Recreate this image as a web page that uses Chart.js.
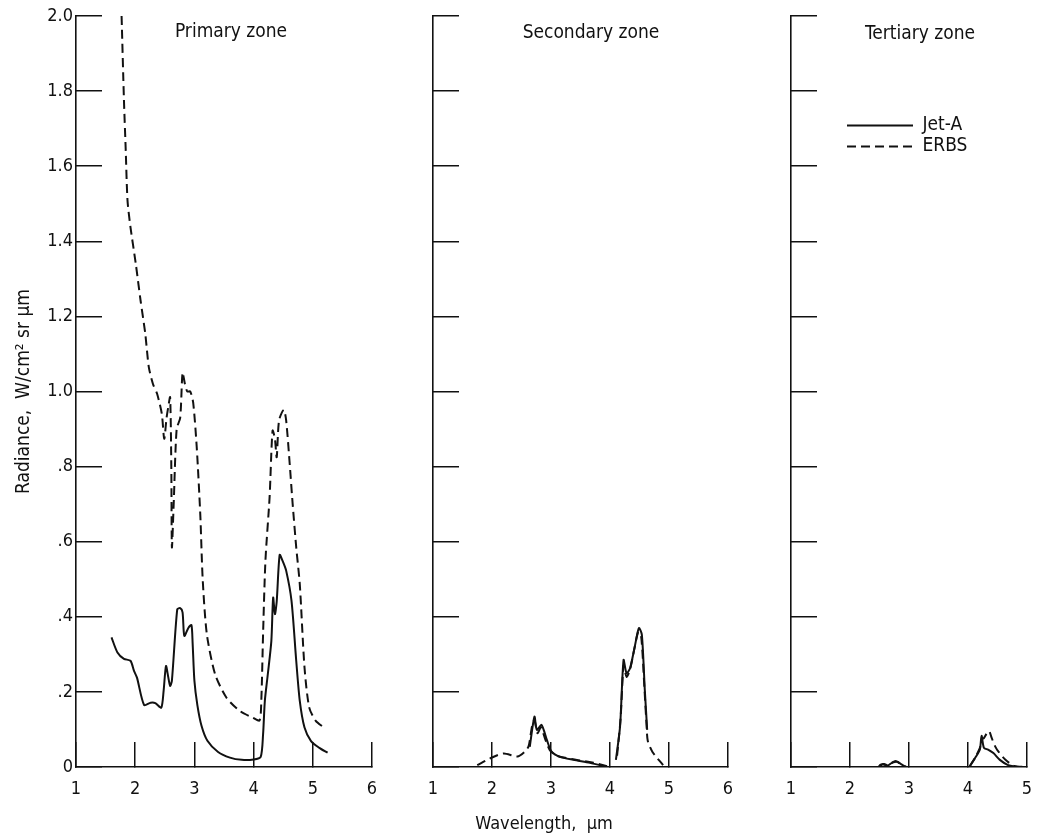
<!DOCTYPE html>
<html>
<head>
<meta charset="utf-8">
<title>Radiance by zone</title>
<script src="https://cdn.jsdelivr.net/npm/chart.js@4.4.1/dist/chart.umd.min.js"></script>
<style>
  body { margin: 0; background: #fff; }
  #fig { position: relative; width: 1037px; height: 838px; color: #111;
         font-family: 'DejaVu Sans Condensed', 'Liberation Sans Narrow', 'DejaVu Sans', sans-serif; }
  canvas { position: absolute; top: 0; }
  .lbl { position: absolute; font-size: 18px; white-space: pre; transform: translate(-50%, -50%); }
  .zone { font-size: 19px; }
</style>
</head>
<body>
<div id="fig">
  <canvas id="primary" width="392" height="838" style="left:0px"></canvas>
  <canvas id="secondary" width="340" height="838" style="left:400px"></canvas>
  <canvas id="tertiary" width="277" height="838" style="left:760px"></canvas>
  <div class="lbl zone" style="left:231px;top:30px">Primary zone</div>
  <div class="lbl zone" style="left:591px;top:31px">Secondary zone</div>
  <div class="lbl zone" style="left:920px;top:32px">Tertiary zone</div>
  <div class="lbl" style="left:544px;top:822px">Wavelength,  µm</div>
</div>
<script>
const FONT = "'DejaVu Sans Condensed', 'Liberation Sans Narrow', 'DejaVu Sans', sans-serif";
const INK = '#111';

const seriesNames = ['Jet-A', 'ERBS'];
const yTickLabels = ['0', '.2', '.4', '.6', '.8', '1.0', '1.2', '1.4', '1.6', '1.8', '2.0'];

// primary zone
const primaryJetAWave = [1.60, 1.70, 1.81, 1.92, 1.98, 2.03, 2.15, 2.26, 2.34, 2.44, 2.48, 2.52, 2.56, 2.59, 2.62,
  2.71, 2.76, 2.80, 2.83, 2.90, 2.95, 2.97, 3.00, 3.05, 3.12, 3.22, 3.40, 3.60, 3.80, 4.00, 4.12,
  4.16, 4.19, 4.24, 4.30, 4.33, 4.36, 4.39, 4.44, 4.49, 4.55, 4.64, 4.72, 4.78, 4.86, 4.97, 5.11, 5.25];
const primaryJetARad = [0.345, 0.305, 0.288, 0.283, 0.256, 0.238, 0.165, 0.171, 0.170, 0.158, 0.203, 0.269, 0.238, 0.216, 0.230,
  0.420, 0.423, 0.412, 0.349, 0.371, 0.378, 0.330, 0.230, 0.165, 0.110, 0.070, 0.040, 0.025, 0.019, 0.020, 0.027,
  0.087, 0.176, 0.247, 0.336, 0.451, 0.407, 0.440, 0.565, 0.549, 0.523, 0.443, 0.283, 0.176, 0.105, 0.069, 0.051, 0.038];
const primaryErbsWave = [1.77, 1.81, 1.84, 1.87, 1.92, 2.01, 2.09, 2.17, 2.23, 2.30, 2.37, 2.45, 2.49, 2.53, 2.56, 2.59,
  2.61, 2.62, 2.65, 2.70, 2.76, 2.80, 2.84, 2.88, 2.93, 2.98, 3.04, 3.10, 3.14, 3.21, 3.35, 3.54, 3.77, 3.99, 4.10,
  4.13, 4.16, 4.20, 4.27, 4.32, 4.36, 4.39, 4.43, 4.51, 4.55, 4.61, 4.66, 4.72, 4.78, 4.86, 4.94, 5.05, 5.19];
const primaryErbsRad = [2.00, 1.776, 1.643, 1.509, 1.438, 1.340, 1.243, 1.154, 1.065, 1.020, 0.994, 0.940, 0.874, 0.930, 0.960, 0.985,
  0.800, 0.585, 0.700, 0.900, 0.930, 1.050, 1.020, 1.000, 1.000, 0.970, 0.850, 0.670, 0.500, 0.354, 0.247, 0.185, 0.149, 0.131, 0.124,
  0.176, 0.354, 0.550, 0.718, 0.896, 0.874, 0.825, 0.923, 0.951, 0.923, 0.807, 0.700, 0.585, 0.487, 0.265, 0.158, 0.123, 0.105];

// secondary zone
const secondaryJetAWave = [2.64, 2.72, 2.76, 2.84, 2.93, 3.01, 3.15, 3.38, 3.66, 3.94, null,
  4.10, 4.17, 4.23, 4.28, 4.34, 4.42, 4.49, 4.54, 4.59, 4.63];
const secondaryJetARad = [0.054, 0.134, 0.099, 0.112, 0.072, 0.041, 0.027, 0.019, 0.011, 0.001, null,
  0.019, 0.107, 0.285, 0.250, 0.263, 0.321, 0.370, 0.352, 0.205, 0.099];
const secondaryErbsWave = [1.75, 2.01, 2.20, 2.43, 2.55, 2.62, 2.68, 2.72, 2.77, 2.83, 2.90, 2.98, 3.10, 3.40, 3.70, 3.95, null,
  4.12, 4.18, 4.23, 4.28, 4.34, 4.42, 4.48, 4.53, 4.58, 4.62, 4.64, 4.72, 4.90];
const secondaryErbsRad = [0.005, 0.026, 0.036, 0.028, 0.040, 0.055, 0.110, 0.125, 0.090, 0.105, 0.075, 0.045, 0.030, 0.020, 0.012, 0.002, null,
  0.030, 0.130, 0.270, 0.240, 0.260, 0.320, 0.360, 0.345, 0.220, 0.110, 0.070, 0.040, 0.005];

// tertiary zone
const tertiaryJetAWave = [2.48, 2.52, 2.58, 2.64, 2.70, 2.77, 2.84, 2.90, 2.96, null,
  4.03, 4.12, 4.20, 4.23, 4.27, 4.34, 4.43, 4.54, 4.68, 4.83];
const tertiaryJetARad = [0.000, 0.006, 0.008, 0.004, 0.010, 0.016, 0.010, 0.004, 0.000, null,
  0.002, 0.024, 0.046, 0.083, 0.051, 0.046, 0.037, 0.019, 0.005, 0.000];
const tertiaryErbsWave = [2.50, 2.55, 2.62, 2.72, 2.80, 2.88, 2.95, null,
  4.03, 4.12, 4.20, 4.24, 4.27, 4.32, 4.36, 4.40, 4.46, 4.52, 4.63, 4.78, 5.00];
const tertiaryErbsRad = [0.000, 0.007, 0.004, 0.012, 0.014, 0.006, 0.000, null,
  0.002, 0.025, 0.050, 0.075, 0.077, 0.090, 0.095, 0.078, 0.055, 0.040, 0.020, 0.003, 0.000];

function points(xs, ys) {
  return xs.map((x, i) => ({ x: x, y: ys[i] }));
}

// move the chartArea legend to where the original sits
const legendSpot = {
  id: 'legendSpot',
  afterLayout(chart) {
    const lg = chart.legend;
    if (!lg || !lg.options.display) return;
    lg.left = chart.chartArea.left + 54;
    lg.top = 114;
  }
};

// point-style legend loses the dash, so take it from the dataset
function legendLabels(chart) {
  return Chart.defaults.plugins.legend.labels.generateLabels(chart).map((item) => {
    const ds = chart.data.datasets[item.datasetIndex];
    item.lineDash = ds.borderDash || [];
    item.lineWidth = ds.borderWidth;
    item.strokeStyle = ds.borderColor;
    return item;
  });
}

function makePanel(id, xMax, yAxisWidth, rightPad, jet, erbs, showYLabels, showLegend) {
  return new Chart(document.getElementById(id), {
    type: 'line',
    data: {
      datasets: [
        { label: seriesNames[0], data: jet, borderColor: INK, borderWidth: 2, pointRadius: 0, tension: 0.25, spanGaps: false },
        { label: seriesNames[1], data: erbs, borderColor: INK, borderWidth: 2, borderDash: [9, 5], pointRadius: 0, tension: 0.25, spanGaps: false }
      ]
    },
    options: {
      responsive: false,
      animation: false,
      layout: { padding: { top: 16, right: rightPad, left: 0, bottom: 0 } },
      plugins: {
        legend: {
          display: showLegend,
          position: 'chartArea',
          align: 'start',
          labels: {
            usePointStyle: true, pointStyle: 'line', pointStyleWidth: 66, padding: 2,
            color: INK, font: { size: 19, family: FONT }, generateLabels: legendLabels
          }
        },
        tooltip: { enabled: false }
      },
      scales: {
        x: {
          type: 'linear', min: 1, max: xMax,
          border: { display: true, color: INK, width: 1.6 },
          grid: { drawOnChartArea: false, tickLength: -25, color: INK, lineWidth: 1.5 },
          ticks: { stepSize: 1, padding: 37, color: INK, maxRotation: 0, autoSkip: false, font: { size: 18, family: FONT } },
          afterFit: (s) => { s.height = 71; s.paddingLeft = 0; s.paddingRight = 0; }
        },
        y: {
          type: 'linear', min: 0, max: 2,
          border: { display: true, color: INK, width: 1.6 },
          grid: { drawOnChartArea: false, tickLength: -26, color: INK, lineWidth: 1.5 },
          ticks: {
            display: showYLabels, stepSize: 0.2, padding: 29, color: INK, font: { size: 18, family: FONT },
            callback: (v, i) => yTickLabels[i]
          },
          title: {
            display: showYLabels, text: 'Radiance,  W/cm² sr µm', color: INK,
            font: { size: 19, family: FONT }, padding: { top: 13, bottom: 0 }
          },
          afterFit: (s) => { s.width = yAxisWidth; s.paddingTop = 0; s.paddingBottom = 0; }
        }
      }
    },
    plugins: [legendSpot]
  });
}

makePanel('primary', 6, 76, 20,
  points(primaryJetAWave, primaryJetARad), points(primaryErbsWave, primaryErbsRad), true, false);
makePanel('secondary', 6, 33, 12,
  points(secondaryJetAWave, secondaryJetARad), points(secondaryErbsWave, secondaryErbsRad), false, false);
makePanel('tertiary', 5, 31, 10,
  points(tertiaryJetAWave, tertiaryJetARad), points(tertiaryErbsWave, tertiaryErbsRad), false, true);
</script>
</body>
</html>
